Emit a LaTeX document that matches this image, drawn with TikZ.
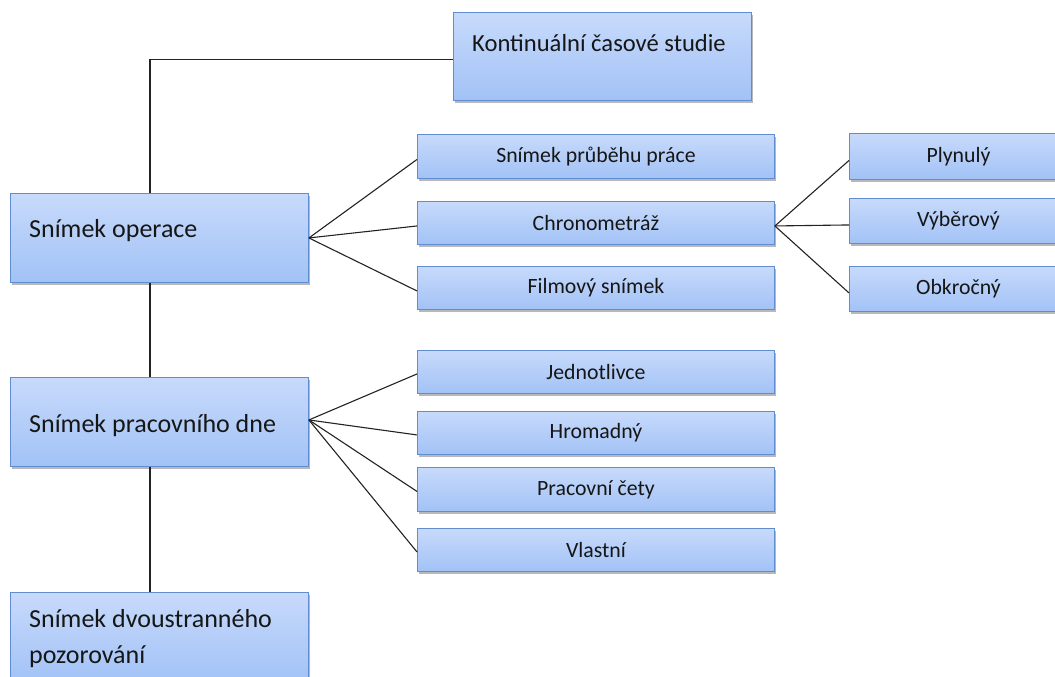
\documentclass[tikz,border=0pt]{standalone}
\usepackage{fontspec}
\setmainfont{Carlito}
\usetikzlibrary{shadows}
\definecolor{boxtop}{RGB}{199,218,251}
\definecolor{boxbot}{RGB}{162,194,246}
\definecolor{boxedge}{RGB}{98,140,208}
\definecolor{ink}{RGB}{22,22,22}
\definecolor{wire}{RGB}{35,35,35}
\tikzset{
  box/.style={rectangle, draw=boxedge, line width=0.9pt, top color=boxtop, bottom color=boxbot,
    drop shadow={shadow xshift=1.5pt, shadow yshift=-3pt, opacity=0.5, fill=black!55},
    anchor=north west, inner sep=0pt, text=ink},
  bigbox/.style={box, minimum width=298pt, minimum height=89pt},
  midbox/.style={box, minimum width=357pt, minimum height=44pt, font=\fontsize{21.8}{26}\selectfont},
  rbox/.style={box, minimum width=218pt, minimum height=45pt, font=\fontsize{21.8}{26}\selectfont},
  bigtext/.style={anchor=base west, inner sep=0pt, text=ink, font=\fontsize{26}{36}\selectfont, align=left},
  wire/.style={draw=wire, line width=1.1pt}
}
\begin{document}
\begin{tikzpicture}[x=1pt, y=-1pt]
\clip (0,0) rectangle (1055,677);
\fill[white] (0,0) rectangle (1055,677);

% main column
\node[box, minimum width=298pt, minimum height=88pt] (kc) at (453,12) {};
\node[bigtext, font=\fontsize{24.6}{30}\selectfont] (kct) at (472,52) {Kontinuální časové studie};
\node[bigbox] (op) at (10,193) {};
\node[bigtext] (opt) at (29,237) {Snímek operace};
\node[bigbox] (pd) at (10,377) {};
\node[bigtext] (pdt) at (29,432) {Snímek pracovního dne};
\node[bigbox] (dv) at (10,592) {};
\node[bigtext] (dvt) at (29,663) {Snímek dvoustranného\\pozorování};

% second level
\node[midbox] (spp) at (417,134) {Snímek průběhu práce};
\node[midbox, minimum height=43pt] (chr) at (417,201) {Chronometráž};
\node[midbox, minimum height=43pt] (fil) at (417,266) {Filmový snímek};
\node[midbox, minimum height=43pt] (jed) at (417,350) {Jednotlivce};
\node[midbox, minimum height=43pt] (hro) at (417,411) {Hromadný};
\node[midbox, minimum height=44pt] (cet) at (417,467) {Pracovní čety};
\node[midbox, minimum height=43pt] (vla) at (417,528) {Vlastní};

% third level
\node[rbox, minimum height=46pt] (ply) at (849,133) {Plynulý};
\node[rbox] (vyb) at (849,198) {Výběrový};
\node[rbox] (obk) at (849,266) {Obkročný};

% connectors
\coordinate (spine) at (150,0);
\draw[wire] (op.north -| spine) |- ([yshift=-3pt]kc.west);
\draw[wire] (op.south -| spine) -- (pd.north -| spine);
\draw[wire] (pd.south -| spine) -- (dv.north -| spine);

\foreach \t in {spp,chr,fil} \draw[wire] (op.east) -- ([yshift=-3pt]\t.west);
\foreach \t in {ply,vyb,obk} \draw[wire] ([yshift=-3pt]chr.east) -- ([yshift=-4pt]\t.west);
\foreach \t in {jed,hro,cet,vla} \draw[wire] ([yshift=2pt]pd.east) -- ([yshift=-2pt]\t.west);
\end{tikzpicture}
\end{document}
